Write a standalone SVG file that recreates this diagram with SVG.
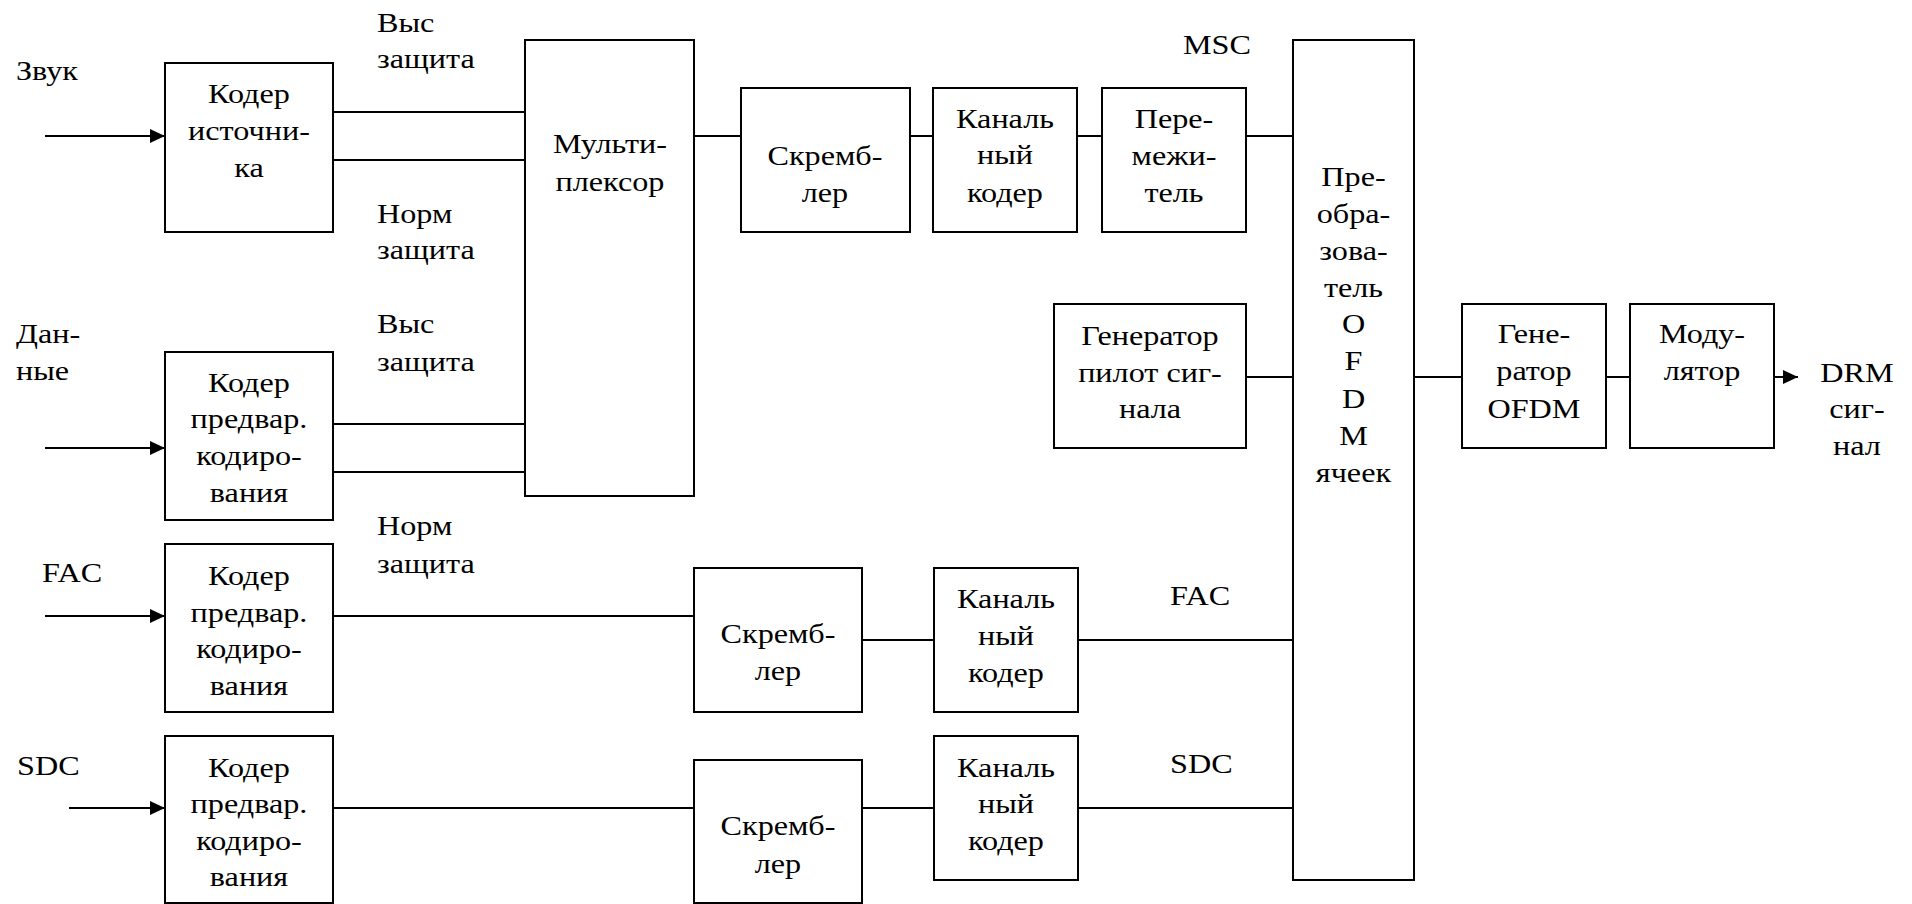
<svg xmlns="http://www.w3.org/2000/svg" width="1912" height="904" viewBox="0 0 1912 904">
<style>
rect{fill:#fff;stroke:#000;stroke-width:2}
line{stroke:#000;stroke-width:2}
text{font-family:'Liberation Serif','Times New Roman',serif;font-size:28px;fill:#000;transform-box:fill-box}
.c{text-anchor:middle;transform:scaleX(1.15);transform-origin:50% 50%}
.l{text-anchor:start;transform:scaleX(1.15);transform-origin:0% 50%}
</style>
<defs>
<marker id="ah" markerUnits="userSpaceOnUse" markerWidth="16" markerHeight="14" refX="15" refY="7" orient="auto">
<path d="M0,0 L15,7 L0,14 Z" fill="#000"/>
</marker>
</defs>
<rect x="0" y="0" width="1912" height="904" style="stroke:none"/>
<g id="connectors">
<line x1="45" y1="136" x2="165" y2="136" marker-end="url(#ah)"/>
<line x1="45" y1="448" x2="165" y2="448" marker-end="url(#ah)"/>
<line x1="45" y1="616" x2="165" y2="616" marker-end="url(#ah)"/>
<line x1="69" y1="808" x2="165" y2="808" marker-end="url(#ah)"/>
<line x1="333" y1="112" x2="525" y2="112"/>
<line x1="333" y1="160" x2="525" y2="160"/>
<line x1="333" y1="424" x2="525" y2="424"/>
<line x1="333" y1="472" x2="525" y2="472"/>
<line x1="694" y1="136" x2="741" y2="136"/>
<line x1="910" y1="136" x2="933" y2="136"/>
<line x1="1077" y1="136" x2="1102" y2="136"/>
<line x1="1246" y1="136" x2="1293" y2="136"/>
<line x1="1246" y1="377" x2="1293" y2="377"/>
<line x1="1414" y1="377" x2="1462" y2="377"/>
<line x1="1606" y1="377" x2="1630" y2="377"/>
<line x1="1774" y1="377" x2="1798" y2="377" marker-end="url(#ah)"/>
<line x1="333" y1="616" x2="694" y2="616"/>
<line x1="862" y1="640" x2="934" y2="640"/>
<line x1="1078" y1="640" x2="1293" y2="640"/>
<line x1="333" y1="808" x2="694" y2="808"/>
<line x1="862" y1="808" x2="934" y2="808"/>
<line x1="1078" y1="808" x2="1293" y2="808"/>
</g>
<g id="labels">
<text class="l" x="16" y="80">Звук</text>
<text class="l" x="16" y="343">Дан-</text>
<text class="l" x="16" y="380">ные</text>
<text class="l" x="42" y="582">FAC</text>
<text class="l" x="17" y="775">SDC</text>
<text class="l" x="377" y="32">Выс</text>
<text class="l" x="377" y="68">защита</text>
<text class="l" x="377" y="223">Норм</text>
<text class="l" x="377" y="259">защита</text>
<text class="l" x="377" y="333">Выс</text>
<text class="l" x="377" y="371">защита</text>
<text class="l" x="377" y="535">Норм</text>
<text class="l" x="377" y="573">защита</text>
<text class="l" x="1183" y="54">MSC</text>
<text class="l" x="1170" y="605">FAC</text>
<text class="l" x="1170" y="773">SDC</text>
<text class="c" x="1857" y="382">DRM</text>
<text class="c" x="1857" y="418">сиг-</text>
<text class="c" x="1857" y="455">нал</text>
</g>
<g id="src-coder">
<rect x="165" y="63" width="168" height="169"/>
<text class="c" x="249" y="103">Кодер</text>
<text class="c" x="249" y="140">источни-</text>
<text class="c" x="249" y="177">ка</text>
</g>
<g id="data-coder">
<rect x="165" y="352" width="168" height="168"/>
<text class="c" x="249" y="392">Кодер</text>
<text class="c" x="249" y="428">предвар.</text>
<text class="c" x="249" y="465">кодиро-</text>
<text class="c" x="249" y="502">вания</text>
</g>
<g id="fac-coder">
<rect x="165" y="544" width="168" height="168"/>
<text class="c" x="249" y="585">Кодер</text>
<text class="c" x="249" y="622">предвар.</text>
<text class="c" x="249" y="658">кодиро-</text>
<text class="c" x="249" y="695">вания</text>
</g>
<g id="sdc-coder">
<rect x="165" y="736" width="168" height="167"/>
<text class="c" x="249" y="777">Кодер</text>
<text class="c" x="249" y="813">предвар.</text>
<text class="c" x="249" y="850">кодиро-</text>
<text class="c" x="249" y="886">вания</text>
</g>
<g id="mux">
<rect x="525" y="40" width="169" height="456"/>
<text class="c" x="610" y="153">Мульти-</text>
<text class="c" x="610" y="191">плексор</text>
</g>
<g id="scr-msc">
<rect x="741" y="88" width="169" height="144"/>
<text class="c" x="825" y="165">Скремб-</text>
<text class="c" x="825" y="202">лер</text>
</g>
<g id="ch-msc">
<rect x="933" y="88" width="144" height="144"/>
<text class="c" x="1005" y="128">Каналь</text>
<text class="c" x="1005" y="164">ный</text>
<text class="c" x="1005" y="202">кодер</text>
</g>
<g id="interleaver">
<rect x="1102" y="88" width="144" height="144"/>
<text class="c" x="1174" y="128">Пере-</text>
<text class="c" x="1174" y="165">межи-</text>
<text class="c" x="1174" y="202">тель</text>
</g>
<g id="ofdm-cells">
<rect x="1293" y="40" width="121" height="840"/>
<text class="c" x="1353.5" y="186">Пре-</text>
<text class="c" x="1353.5" y="223">обра-</text>
<text class="c" x="1353.5" y="260">зова-</text>
<text class="c" x="1353.5" y="297">тель</text>
<text class="c" x="1353.5" y="333">O</text>
<text class="c" x="1353.5" y="370">F</text>
<text class="c" x="1353.5" y="408">D</text>
<text class="c" x="1353.5" y="445">M</text>
<text class="c" x="1353.5" y="482">ячеек</text>
</g>
<g id="pilot">
<rect x="1054" y="304" width="192" height="144"/>
<text class="c" x="1150" y="345">Генератор</text>
<text class="c" x="1150" y="382">пилот сиг-</text>
<text class="c" x="1150" y="418">нала</text>
</g>
<g id="ofdm-gen">
<rect x="1462" y="304" width="144" height="144"/>
<text class="c" x="1534" y="343">Гене-</text>
<text class="c" x="1534" y="380">ратор</text>
<text class="c" x="1534" y="418">OFDM</text>
</g>
<g id="modulator">
<rect x="1630" y="304" width="144" height="144"/>
<text class="c" x="1702" y="343">Моду-</text>
<text class="c" x="1702" y="380">лятор</text>
</g>
<g id="scr-fac">
<rect x="694" y="568" width="168" height="144"/>
<text class="c" x="778" y="643">Скремб-</text>
<text class="c" x="778" y="680">лер</text>
</g>
<g id="ch-fac">
<rect x="934" y="568" width="144" height="144"/>
<text class="c" x="1006" y="608">Каналь</text>
<text class="c" x="1006" y="645">ный</text>
<text class="c" x="1006" y="682">кодер</text>
</g>
<g id="scr-sdc">
<rect x="694" y="760" width="168" height="143"/>
<text class="c" x="778" y="835">Скремб-</text>
<text class="c" x="778" y="873">лер</text>
</g>
<g id="ch-sdc">
<rect x="934" y="736" width="144" height="144"/>
<text class="c" x="1006" y="777">Каналь</text>
<text class="c" x="1006" y="813">ный</text>
<text class="c" x="1006" y="850">кодер</text>
</g>
</svg>
